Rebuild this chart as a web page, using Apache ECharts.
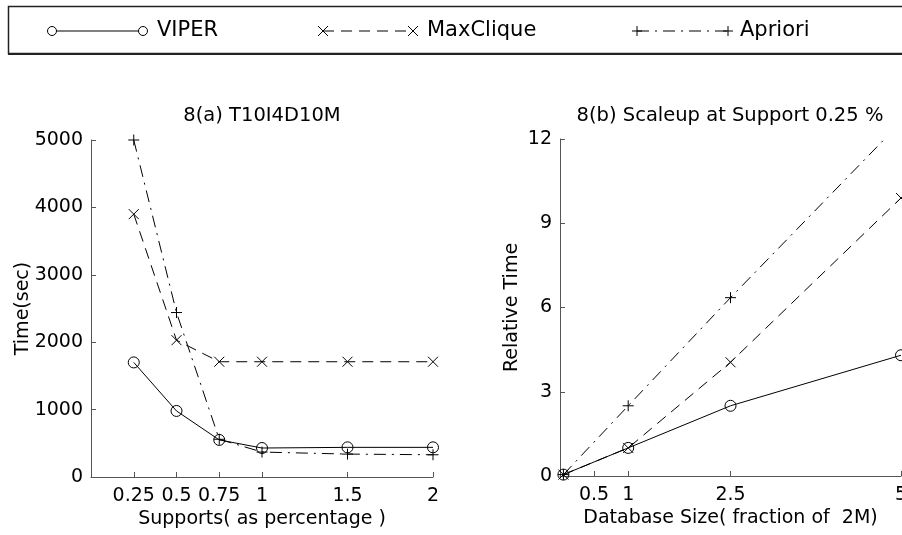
<!DOCTYPE html>
<html>
<head>
<meta charset="utf-8">
<script src="https://cdn.jsdelivr.net/npm/echarts@6/dist/echarts.min.js"></script>
<style>
  html, body { margin: 0; padding: 0; background: #fff; }
  #chart { width: 902px; height: 535px; }
</style>
</head>
<body>
<div id="chart"></div>
<script>
// 8(a) support vs time
var supports = [0.25, 0.5, 0.75, 1, 1.5, 2];
var viperA = [1700, 980, 550, 430, 440, 440];
var maxcliqueA = [3900, 2030, 1710, 1710, 1710, 1710];
var aprioriA = [5000, 2440, 560, 370, 340, 330];

// 8(b) scaleup
var dbSizes = [0.05, 1, 2.5, 5];
var viperB = [0.05, 1, 2.5, 4.3];
var maxcliqueB = [0.05, 1, 4.05, 9.9];
var aprioriB = [0.05, 2.5, 6.35, 12.6];

var xTicksA = [0.25, 0.5, 0.75, 1, 1.5, 2];
var xTicksB = [0.5, 1, 2.5, 5];

var FONT = '"DejaVu Sans"';
var AXIS_COLOR = '#555';
var CROSS = 'path://M0,0L10,10M10,0L0,10';
var PLUS = 'path://M5,0L5,10M0,5L10,5';

function pairs(xs, ys) {
  return xs.map(function (x, i) { return [x, ys[i]]; });
}

function axisBase(name, gap, margin) {
  return {
    type: 'value',
    name: name,
    nameLocation: 'middle',
    nameGap: gap,
    nameMoveOverlap: false,
    nameTextStyle: { fontFamily: FONT, fontSize: 19, color: '#000' },
    axisLine: { show: true, lineStyle: { color: AXIS_COLOR, width: 1 } },
    axisTick: { show: true, inside: true, length: 5, lineStyle: { color: AXIS_COLOR } },
    axisLabel: { fontFamily: FONT, fontSize: 19, color: '#000', margin: margin,
      formatter: function (v) { return String(v); } },
    splitLine: { show: false }
  };
}

function mkSeries(name, data, grid, dash, symbol, size) {
  return {
    name: name,
    type: 'line',
    xAxisIndex: grid,
    yAxisIndex: grid,
    data: data,
    symbol: symbol,
    symbolSize: size,
    showAllSymbol: true,
    clip: true,
    lineStyle: { color: '#000', width: 1, type: dash },
    itemStyle: { color: 'transparent', borderColor: '#000', borderWidth: 1 },
    emphasis: { disabled: true },
    animation: false
  };
}

var xA = axisBase('Supports( as percentage )', 33, 10);
xA.min = 0; xA.max = 2;
xA.axisLabel.customValues = xTicksA;
xA.axisTick.customValues = xTicksA;
xA.gridIndex = 0;

var yA = axisBase('Time(sec)', 58, 8);
yA.min = 0; yA.max = 5000; yA.interval = 1000;
yA.gridIndex = 0;

var xB = axisBase('Database Size( fraction of  2M)', 33, 10);
xB.min = 0; xB.max = 5;
xB.axisLabel.customValues = xTicksB;
xB.axisTick.customValues = xTicksB;
xB.gridIndex = 1;

var yB = axisBase('Relative Time', 38, 8);
yB.min = 0; yB.max = 12; yB.interval = 3;
yB.gridIndex = 1;

var DASH = [11, 7];
var DASHDOT = [12, 6, 2, 6];

// legend drawn by hand: marker at both ends of the line sample
var legendY = 31;
var legendItems = [
  { text: 'VIPER', x1: 52, x2: 143, tx: 157, dash: null, mark: 'circle' },
  { text: 'MaxClique', x1: 323, x2: 413, tx: 427, dash: DASH, mark: 'cross' },
  { text: 'Apriori', x1: 637, x2: 728, tx: 740, dash: DASHDOT, mark: 'plus' }
];

var graphics = [
  { type: 'rect', shape: { x: 8.5, y: 6.5, width: 900, height: 47 },
    style: { fill: 'none', stroke: '#222', lineWidth: 1.5 } },
  { type: 'line', shape: { x1: 8, y1: 54, x2: 902, y2: 54 },
    style: { stroke: '#222', lineWidth: 2 } },
  { type: 'text', x: 262, y: 116,
    style: { text: '8(a) T10I4D10M', font: '19.5px ' + FONT, fill: '#000',
      align: 'center', verticalAlign: 'middle', textAlign: 'center', textVerticalAlign: 'middle' } },
  { type: 'text', x: 730, y: 116,
    style: { text: '8(b) Scaleup at Support 0.25 %', font: '19.5px ' + FONT, fill: '#000',
      align: 'center', verticalAlign: 'middle', textAlign: 'center', textVerticalAlign: 'middle' } }
];

legendItems.forEach(function (it) {
  graphics.push({ type: 'line', shape: { x1: it.x1, y1: legendY, x2: it.x2, y2: legendY },
    style: { stroke: '#000', lineWidth: 1, lineDash: it.dash } });
  [it.x1, it.x2].forEach(function (cx) {
    if (it.mark === 'circle') {
      graphics.push({ type: 'circle', shape: { cx: cx, cy: legendY, r: 4.5 },
        style: { fill: '#fff', stroke: '#000', lineWidth: 1 } });
    } else if (it.mark === 'cross') {
      graphics.push({ type: 'polyline', shape: { points: [[cx - 5, legendY - 5], [cx + 5, legendY + 5]] },
        style: { stroke: '#000', lineWidth: 1, fill: null } });
      graphics.push({ type: 'polyline', shape: { points: [[cx + 5, legendY - 5], [cx - 5, legendY + 5]] },
        style: { stroke: '#000', lineWidth: 1, fill: null } });
    } else {
      graphics.push({ type: 'polyline', shape: { points: [[cx - 5, legendY], [cx + 5, legendY]] },
        style: { stroke: '#000', lineWidth: 1, fill: null } });
      graphics.push({ type: 'polyline', shape: { points: [[cx, legendY - 5], [cx, legendY + 5]] },
        style: { stroke: '#000', lineWidth: 1, fill: null } });
    }
  });
  graphics.push({ type: 'text', x: it.tx, y: legendY,
    style: { text: it.text, font: '21px ' + FONT, fill: '#000',
      align: 'left', verticalAlign: 'middle', textAlign: 'left', textVerticalAlign: 'middle' } });
});

var chart = echarts.init(document.getElementById('chart'), null, { renderer: 'canvas' });
var option = {
  animation: false,
  backgroundColor: '#fff',
  grid: [
    { left: 91, right: 469, top: 140, bottom: 58, containLabel: false, outerBoundsMode: 'none' },
    { left: 560, right: 1, top: 139, bottom: 59, containLabel: false, outerBoundsMode: 'none' }
  ],
  xAxis: [xA, xB],
  yAxis: [yA, yB],
  graphic: graphics,
  series: [
    mkSeries('VIPER', pairs(supports, viperA), 0, 'solid', 'circle', 11),
    mkSeries('MaxClique', pairs(supports, maxcliqueA), 0, DASH, CROSS, 10),
    mkSeries('Apriori', pairs(supports, aprioriA), 0, DASHDOT, PLUS, 11),
    mkSeries('VIPER', pairs(dbSizes, viperB), 1, 'solid', 'circle', 11),
    mkSeries('MaxClique', pairs(dbSizes, maxcliqueB), 1, DASH, CROSS, 10),
    mkSeries('Apriori', pairs(dbSizes, aprioriB), 1, DASHDOT, PLUS, 11)
  ]
};
chart.setOption(option);
</script>
</body>
</html>
